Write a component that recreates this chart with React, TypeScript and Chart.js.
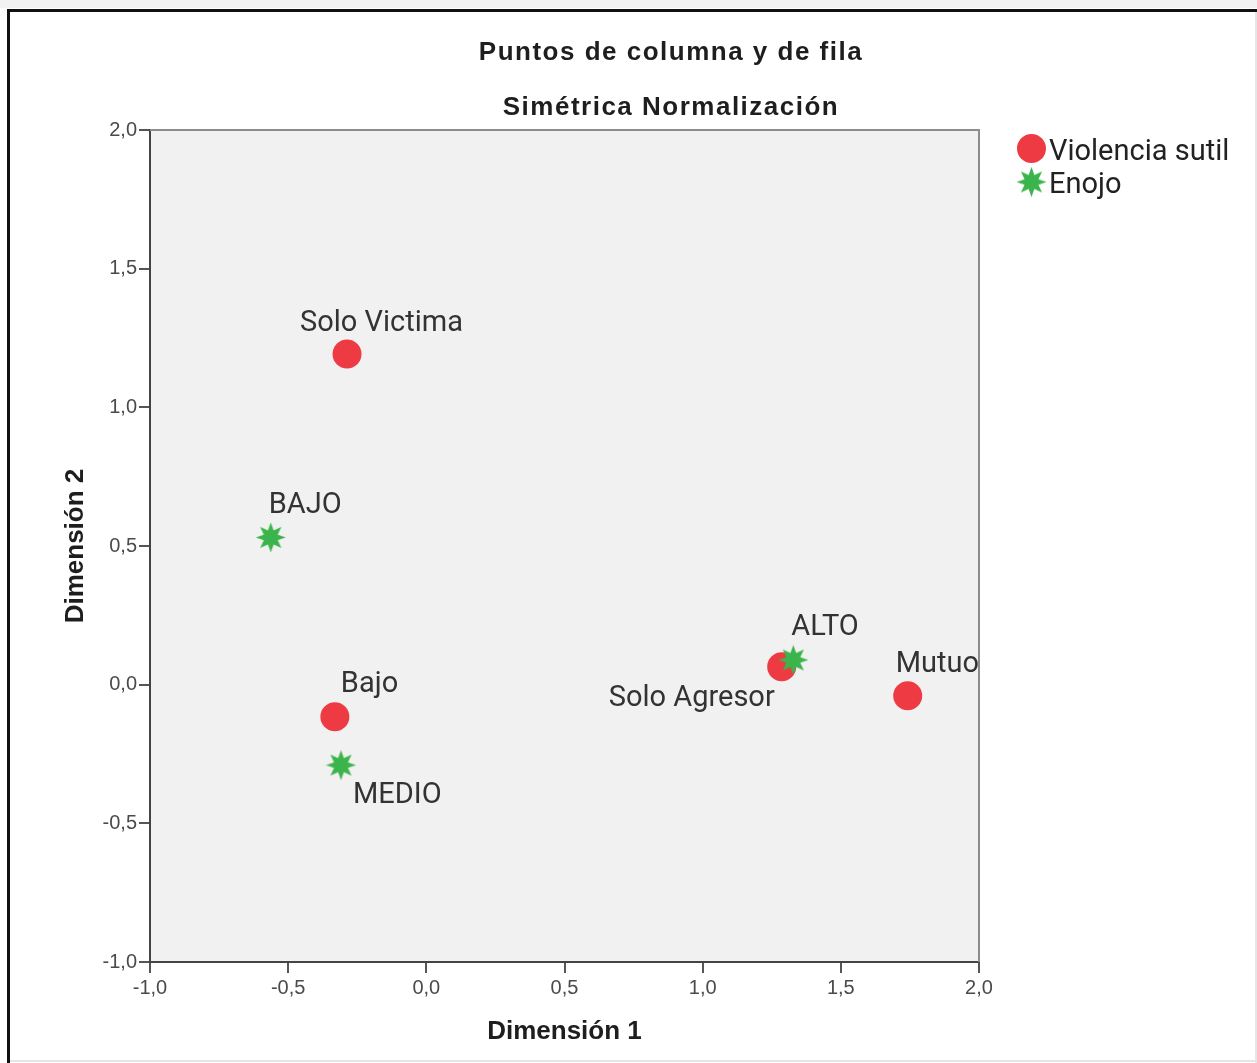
import React, { useEffect, useRef } from 'react';
import { Chart, registerables } from 'chart.js';

Chart.register(...registerables);

// ---- data ----
const violenciaLabels = ['Bajo', 'Solo Victima', 'Solo Agresor', 'Mutuo'];
const violenciaX = [-0.331, -0.287, 1.286, 1.742];
const violenciaY = [-0.116, 1.192, 0.065, -0.04];

const enojoLabels = ['BAJO', 'MEDIO', 'ALTO'];
const enojoX = [-0.563, -0.309, 1.328];
const enojoY = [0.531, -0.29, 0.089];

const xTicks = [-1.0, -0.5, 0.0, 0.5, 1.0, 1.5, 2.0];
const yTicks = [-1.0, -0.5, 0.0, 0.5, 1.0, 1.5, 2.0];

const titleLines = ['Puntos de columna y de fila', 'Simétrica Normalización'];
const xTitle = 'Dimensión 1';
const yTitle = 'Dimensión 2';
const seriesNames = ['Violencia sutil', 'Enojo'];

// ---- styles ----
const RED = '#ee3b43';
const GREEN = '#3bb44b';
const violenciaLabelOffsets = [[6, -25], [-47, -23], [-173, 39], [-12, -24]];
const enojoLabelOffsets = [[-2, -24], [12, 38], [-2, -25]];

const W = 1257;
const H = 1063;

function makeStar(color: string) {
  const c = document.createElement('canvas');
  c.width = 31;
  c.height = 31;
  const ctx = c.getContext('2d')!;
  ctx.translate(15.5, 15.5);
  ctx.beginPath();
  const n = 8;
  const R = 15;
  const r = 7.5;
  for (let i = 0; i < 2 * n; i++) {
    const a = (i * Math.PI) / n - Math.PI / 2;
    const rad = i % 2 === 0 ? R : r;
    ctx.lineTo(Math.cos(a) * rad, Math.sin(a) * rad);
  }
  ctx.closePath();
  ctx.fillStyle = color;
  ctx.fill();
  return c;
}

const fmt = (v: any) => Number(v).toFixed(1).replace('.', ',');

export default function App() {
  const ref = useRef<HTMLCanvasElement>(null);

  useEffect(() => {
    const star = makeStar(GREEN);

    const decor = {
      id: 'decor',
      beforeDraw(chart: any) {
        const { ctx, chartArea: a } = chart;
        ctx.save();
        ctx.fillStyle = '#ffffff';
        ctx.fillRect(0, 0, W, H);
        // outer frame
        ctx.fillStyle = '#f2f2f2';
        ctx.fillRect(0, 0, W, 8);
        ctx.strokeStyle = '#111';
        ctx.lineWidth = 3;
        ctx.beginPath();
        ctx.moveTo(8.5, H);
        ctx.lineTo(8.5, 10.5);
        ctx.lineTo(W, 10.5);
        ctx.stroke();
        ctx.strokeStyle = '#e6e6e6';
        ctx.lineWidth = 2;
        ctx.beginPath();
        ctx.moveTo(10, H - 2);
        ctx.lineTo(W, H - 2);
        ctx.moveTo(W - 1, 12);
        ctx.lineTo(W - 1, H);
        ctx.stroke();
        // plot background
        ctx.fillStyle = '#f1f1f1';
        ctx.fillRect(a.left, a.top, a.right - a.left, a.bottom - a.top);
        ctx.restore();
      },
      beforeDatasetsDraw(chart: any) {
        const { ctx, chartArea: a } = chart;
        ctx.save();
        ctx.strokeStyle = '#8c8c8c';
        ctx.lineWidth = 2;
        ctx.beginPath();
        ctx.moveTo(a.left, a.top);
        ctx.lineTo(a.right, a.top);
        ctx.lineTo(a.right, a.bottom);
        ctx.stroke();
        ctx.restore();
      },
      afterDatasetsDraw(chart: any) {
        const { ctx } = chart;
        ctx.save();
        ctx.font = '29px Roboto';
        ctx.fillStyle = '#333333';
        ctx.textAlign = 'left';
        ctx.textBaseline = 'alphabetic';
        const sets = [
          { labels: violenciaLabels, off: violenciaLabelOffsets },
          { labels: enojoLabels, off: enojoLabelOffsets },
        ];
        sets.forEach((s, di) => {
          const meta = chart.getDatasetMeta(di);
          meta.data.forEach((el: any, i: number) => {
            ctx.fillText(s.labels[i], el.x + s.off[i][0], el.y + s.off[i][1]);
          });
        });
        ctx.restore();
      },
      afterDraw(chart: any) {
        const { ctx, chartArea: a } = chart;
        ctx.save();
        // titles
        ctx.fillStyle = '#1e1e1e';
        ctx.font = 'bold 26px "Liberation Sans", Arial';
        (ctx as any).letterSpacing = '1.5px';
        ctx.textAlign = 'center';
        ctx.textBaseline = 'alphabetic';
        ctx.fillText(titleLines[0], 671, 60);
        ctx.fillText(titleLines[1], 671, 115);
        (ctx as any).letterSpacing = '0px';
        // axis titles
        ctx.font = 'bold 26px "Liberation Sans", Arial';
        ctx.fillText(xTitle, (a.left + a.right) / 2, 1039);
        ctx.save();
        ctx.translate(83, (a.top + a.bottom) / 2);
        ctx.rotate(-Math.PI / 2);
        ctx.fillText(yTitle, 0, 0);
        ctx.restore();
        // legend
        ctx.fillStyle = RED;
        ctx.beginPath();
        ctx.arc(1031.5, 148.5, 14.5, 0, Math.PI * 2);
        ctx.fill();
        ctx.drawImage(star, 1031.5 - 15.5, 182 - 15.5);
        ctx.fillStyle = '#222222';
        ctx.font = '29px Roboto';
        ctx.textAlign = 'left';
        ctx.fillText(seriesNames[0], 1049, 159.5);
        ctx.fillText(seriesNames[1], 1049, 192.5);
        ctx.restore();
      },
    };

    const tickFont = { family: '"Liberation Sans", Arial', size: 20 };

    const chart = new Chart(ref.current!, {
      type: 'scatter',
      data: {
        datasets: [
          {
            label: seriesNames[0],
            data: violenciaX.map((x, i) => ({ x, y: violenciaY[i] })),
            order: 2,
            pointStyle: 'circle',
            pointRadius: 14.5,
            pointBackgroundColor: RED,
            pointBorderWidth: 0,
            borderWidth: 0,
            backgroundColor: RED,
          },
          {
            label: seriesNames[1],
            data: enojoX.map((x, i) => ({ x, y: enojoY[i] })),
            order: 1,
            pointStyle: star as any,
            pointRadius: 14.5,
            pointBackgroundColor: GREEN,
            pointBorderWidth: 0,
            borderWidth: 0,
          },
        ],
      },
      options: {
        animation: false,
        responsive: false,
        events: [],
        layout: { padding: { top: 130, right: W - 979, left: 0, bottom: 0 } },
        plugins: {
          legend: { display: false },
          title: { display: false },
          tooltip: { enabled: false },
        },
        scales: {
          x: {
            type: 'linear',
            min: -1,
            max: 2,
            afterBuildTicks: (s: any) => {
              s.ticks = xTicks.map((v) => ({ value: v }));
            },
            afterFit: (s: any) => {
              s.height = H - 962;
            },
            ticks: { callback: fmt, font: tickFont, color: '#4a4a4a', padding: 3, maxRotation: 0 },
            grid: { drawOnChartArea: false, drawTicks: true, tickLength: 11, color: '#555555', lineWidth: 2 },
            border: { display: true, color: '#444444', width: 2 },
          },
          y: {
            type: 'linear',
            min: -1,
            max: 2,
            afterBuildTicks: (s: any) => {
              s.ticks = yTicks.map((v) => ({ value: v }));
            },
            afterFit: (s: any) => {
              s.width = 150;
            },
            ticks: { callback: fmt, font: tickFont, color: '#4a4a4a', padding: 2 },
            grid: { drawOnChartArea: false, drawTicks: true, tickLength: 11, color: '#555555', lineWidth: 2 },
            border: { display: true, color: '#444444', width: 2 },
          },
        },
      },
      plugins: [decor],
    } as any);

    return () => chart.destroy();
  }, []);

  return (
    <div style={{ position: 'absolute', left: 0, top: 0, width: W, height: H, background: '#fff' }}>
      <canvas ref={ref} width={W} height={H} style={{ display: 'block', width: W, height: H }} />
    </div>
  );
}
